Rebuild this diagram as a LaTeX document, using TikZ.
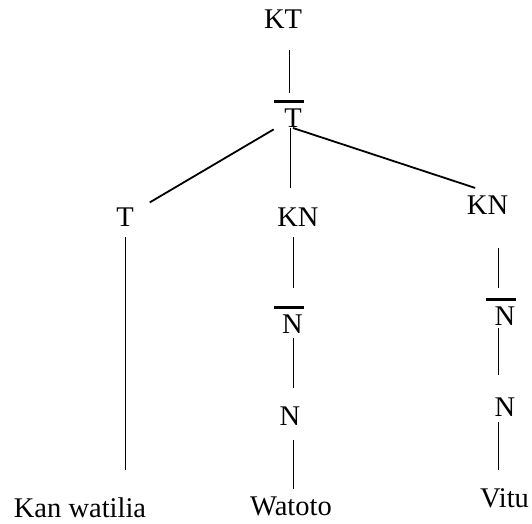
\documentclass[tikz,border=0pt]{standalone}
\usepackage{fontspec}
\setmainfont{Liberation Serif}
\usetikzlibrary{calc}

\begin{document}
\begin{tikzpicture}[x=1pt, y=1pt]
    % category labels
    \tikzstyle{cat}=[inner sep=0, font=\fontsize{28.5}{34}\selectfont]
    % tree branches
    \tikzstyle{br}=[line width=.9pt]
    \tikzstyle{slant}=[line width=1.8pt]
    \tikzstyle{bar}=[line width=2.2pt]
    \useasboundingbox (0,0) rectangle (532,523);
    \node[cat] (KT) at (283,504) {KT};
    \node[cat] (Tb) at (293,405) {T};
    \node[cat] (T) at (125,306) {T};
    \node[cat] (KNa) at (298,306) {KN};
    \node[cat] (KNb) at (487.5,318) {KN};
    \node[cat] (Na) at (292.5,199) {N};
    \node[cat] (Nb) at (505,207) {N};
    \node[cat] (Nc) at (290,107) {N};
    \node[cat] (Nd) at (505,116) {N};
    \node[cat] (W1) at (80,15.5) {Kan watilia};
    \node[cat] (W2) at (291,17) {Watoto};
    \node[cat] (W3) at (504.5,25) {Vitu};
    % bars over T and N
    \foreach \n in {Tb,Na,Nb}
        \draw[bar] ([shift={(-19,16.5)}]\n.center) -- ([shift={(11,16.5)}]\n.center);
    \draw[br, shorten <=31pt, shorten >=25pt] ([xshift=6pt]KT.center) -- ([xshift=6pt]KT.center |- Tb.center);
    \draw[slant, shorten <=22.4pt, shorten >=28.7pt] (Tb.center) -- (T.center);
    \draw[br, shorten <=10pt, shorten >=29pt] ([xshift=-3pt]Tb.center) -- ([xshift=-3pt]Tb.center |- KNa.center);
    \draw[slant, shorten >=13pt] ([yshift=-10pt]Tb.center) -- ([yshift=13pt]KNb.center);
    \draw[br, shorten <=20pt, shorten >=37.5pt] (T.center) -- (T.center |- W1.center);
    \draw[br, shorten <=20pt, shorten >=36pt] ([xshift=-5pt]KNa.center) -- ([xshift=-5pt]KNa.center |- Na.center);
    \draw[br, shorten <=14pt, shorten >=28pt] ([xshift=.5pt]Na.center) -- ([xshift=.5pt]Na.center |- Nc.center);
    \draw[br, shorten <=24pt, shorten >=17pt] ([xshift=3pt]Nc.center) -- ([xshift=3pt]Nc.center |- W2.center);
    \draw[br, shorten <=43pt, shorten >=28pt] ([xshift=10.5pt]KNb.center) -- ([xshift=10.5pt]KNb.center |- Nb.center);
    \draw[br, shorten <=12pt, shorten >=32pt] ([xshift=-7pt]Nb.center) -- ([xshift=-7pt]Nb.center |- Nd.center);
    \draw[br, shorten <=15pt, shorten >=28pt] ([xshift=-7pt]Nd.center) -- ([xshift=-7pt]Nd.center |- W3.center);
\end{tikzpicture}
\end{document}
